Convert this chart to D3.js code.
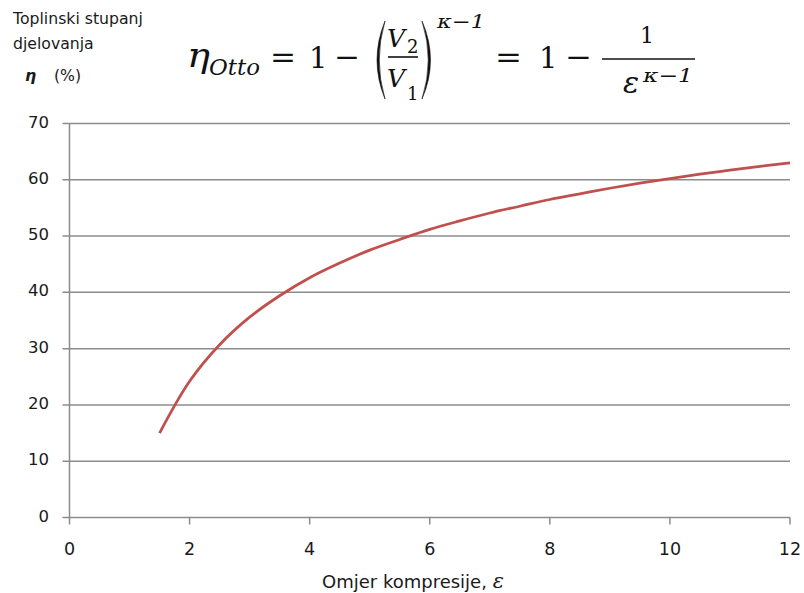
<!DOCTYPE html>
<html lang="hr">
<head>
    <meta charset="utf-8">
    <script src="https://d3js.org/d3.v7.min.js"></script>
    <style>
        body { margin: 0; background: #fff; }
        .tick-label { font-family: "DejaVu Sans", Verdana, sans-serif; font-size: 16.5px; fill: #1a1a1a; }
        .label { font-family: "DejaVu Sans", Verdana, sans-serif; font-size: 15.7px; fill: #1a1a1a; }
        .math text { font-family: "DejaVu Serif", "Liberation Serif", serif; fill: #111; }
    </style>
</head>
<body>
    <div id="chart"></div>

    <script>
        // Compression ratio (x) and thermal efficiency in % (y)
        const ratios = [1.5, 2, 2.5, 3, 3.5, 4, 4.5, 5, 5.5, 6, 6.5, 7, 7.5, 8, 8.5, 9, 9.5, 10, 10.5, 11, 11.5, 12];
        const efficiency = [15.0, 24.2, 30.7, 35.6, 39.4, 42.6, 45.2, 47.5, 49.4, 51.2, 52.7, 54.1, 55.3, 56.5, 57.5, 58.5, 59.4, 60.2, 61.0, 61.7, 62.4, 63.0];
        const xTicks = [0, 2, 4, 6, 8, 10, 12];
        const yTicks = [0, 10, 20, 30, 40, 50, 60, 70];

        const width = 804, height = 593;
        const margin = { top: 123.5, right: 14, bottom: 75.5, left: 69.5 };

        const svg = d3.select('#chart')
            .append('svg')
            .attr('width', width)
            .attr('height', height);

        const x = d3.scaleLinear().domain([0, 12]).range([margin.left, width - margin.right]);
        const y = d3.scaleLinear().domain([0, 70]).range([height - margin.bottom, margin.top]);

        // Horizontal gridlines (they run a bit left of the axis as tick marks)
        svg.append('g')
            .selectAll('line')
            .data(yTicks)
            .enter().append('line')
            .attr('x1', margin.left - 7)
            .attr('x2', x(12))
            .attr('y1', d => y(d))
            .attr('y2', d => y(d))
            .attr('stroke', '#8c8c8c')
            .attr('stroke-width', 1.5);

        // Y axis line
        svg.append('line')
            .attr('x1', x(0)).attr('x2', x(0))
            .attr('y1', y(70)).attr('y2', y(0))
            .attr('stroke', '#8c8c8c')
            .attr('stroke-width', 1.5);

        // X axis tick marks
        svg.append('g')
            .selectAll('line')
            .data(xTicks)
            .enter().append('line')
            .attr('x1', d => x(d)).attr('x2', d => x(d))
            .attr('y1', y(0)).attr('y2', y(0) + 7)
            .attr('stroke', '#8c8c8c')
            .attr('stroke-width', 1.5);

        // Tick labels
        svg.append('g')
            .selectAll('text')
            .data(yTicks)
            .enter().append('text')
            .attr('class', 'tick-label')
            .attr('x', 49)
            .attr('y', d => y(d) + 4)
            .attr('text-anchor', 'end')
            .text(d => d);

        svg.append('g')
            .selectAll('text')
            .data(xTicks)
            .enter().append('text')
            .attr('class', 'tick-label')
            .style('font-size', '17.5px')
            .attr('x', d => x(d))
            .attr('y', y(0) + 37.5)
            .attr('text-anchor', 'middle')
            .text(d => d);

        // The efficiency curve
        const line = d3.line()
            .x((d, i) => x(ratios[i]))
            .y(d => y(d))
            .curve(d3.curveCatmullRom);

        svg.append('path')
            .datum(efficiency)
            .attr('d', line)
            .attr('fill', 'none')
            .attr('stroke', '#c0504d')
            .attr('stroke-width', 2.75);

        // Axis titles
        const xTitle = svg.append('text')
            .attr('class', 'label')
            .style('font-size', '18px')
            .attr('x', 322)
            .attr('y', 588);
        xTitle.append('tspan').text('Omjer kompresije, ');
        xTitle.append('tspan')
            .style('font-family', '"DejaVu Serif", serif')
            .style('font-style', 'italic')
            .style('font-size', '21px')
            .text('ε');

        svg.append('text').attr('class', 'label').attr('x', 13).attr('y', 24).text('Toplinski stupanj');
        svg.append('text').attr('class', 'label').attr('x', 13).attr('y', 49).text('djelovanja');
        svg.append('text').attr('class', 'label')
            .attr('x', 25).attr('y', 81)
            .style('font-style', 'italic').style('font-weight', 'bold')
            .text('η');
        svg.append('text').attr('class', 'label').attr('x', 54).attr('y', 81).text('(%)');

        // Formula: eta_Otto = 1 - (V2/V1)^(k-1) = 1 - 1/eps^(k-1)
        const f = svg.append('g').attr('class', 'math');
        const addText = (tx, ty, str, size, italic, len) => {
            const t = f.append('text')
                .attr('x', tx).attr('y', ty)
                .style('font-size', size + 'px')
                .style('font-style', italic ? 'italic' : 'normal')
                .text(str);
            if (len) t.attr('textLength', len).attr('lengthAdjust', 'spacingAndGlyphs');
            return t;
        };
        const addBar = (x1, x2, yy) => f.append('line')
            .attr('x1', x1).attr('x2', x2).attr('y1', yy).attr('y2', yy)
            .attr('stroke', '#111').attr('stroke-width', 1.6);
        const paren = (xa, xb, top, bot, dir) => {
            // crescent shaped bracket; dir 1 = "(" and -1 = ")"
            const mid = (top + bot) / 2;
            const outer = dir > 0 ? xa : xb, tip = dir > 0 ? xb : xa;
            const inner = outer + dir * 4.5;
            f.append('path')
                .attr('d', `M${tip},${top} Q${outer - dir * 3},${mid} ${tip},${bot} Q${inner - dir * 3},${mid} ${tip},${top} Z`)
                .attr('fill', '#111')
                .attr('stroke', '#111')
                .attr('stroke-width', 0.6);
        };

        addText(187, 67, 'η', 33, true, 23);
        addText(209, 75, 'Otto', 23, true, 51);
        addText(270, 67, '=', 29, false, 26);
        addText(309, 68, '1', 29, false);
        addText(334, 67, '−', 29, false, 26);
        paren(372, 385, 21, 99, 1);
        addText(387, 47, 'V', 25, true);
        addText(407, 53, '2', 18, false);
        addBar(388, 418, 57);
        addText(387, 87, 'V', 25, true);
        addText(407, 100, '1', 18, false);
        paren(422, 436, 21, 99, -1);
        addText(437, 28, 'κ−1', 19, true, 48);

        addText(495, 67, '=', 29, false, 27);
        addText(539, 68, '1', 29, false);
        addText(565, 67, '−', 29, false, 27);
        addText(640, 43, '1', 22, false);
        addBar(602, 695, 59);
        addText(623, 93, 'ε', 30, true);
        addText(643, 82, 'κ−1', 19, true, 50);
    </script>
</body>
</html>
